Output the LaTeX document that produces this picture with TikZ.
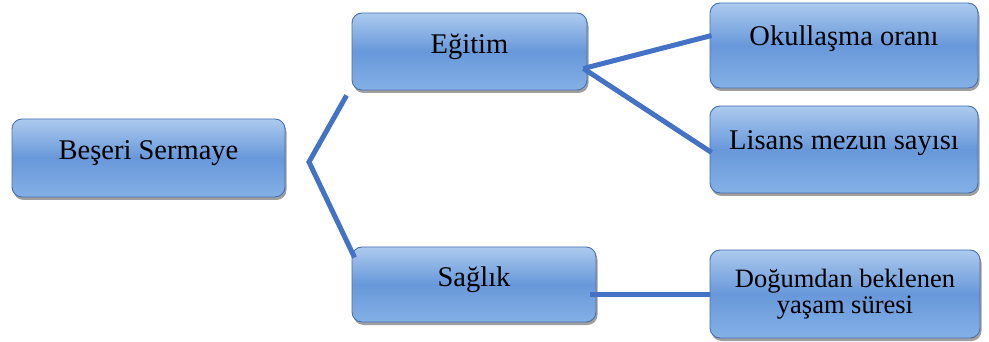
\documentclass[tikz,border=0pt]{standalone}
\usepackage{fontspec}
\setmainfont{Liberation Serif}
\usetikzlibrary{calc, shadows}
\definecolor{boxtop}{RGB}{172,202,238}
\definecolor{boxmid}{RGB}{104,152,218}
\definecolor{boxbot}{RGB}{132,176,230}
\definecolor{boxline}{RGB}{70,112,176}
\definecolor{linkblue}{RGB}{68,114,196}

\tikzset{
  sbox/.style={draw=boxline, line width=0.9pt, rounded corners=10pt,
    top color=boxtop, bottom color=boxbot, middle color=boxmid,
    drop shadow={shadow xshift=1.5pt, shadow yshift=-3pt, opacity=0.5, fill=black!75},
    font=\fontsize{28.5}{27}\selectfont, inner sep=0pt, align=center},
  oneline/.style={text height=20pt, text depth=16pt},
  link/.style={linkblue, line width=5pt}
}

\begin{document}
\begin{tikzpicture}[x=1pt, y=-1pt]
  \useasboundingbox (0,0) rectangle (989,342);
  % boxes
  \node[sbox, oneline, minimum width=273pt, minimum height=78pt] (beseri) at (148.5,158) {Beşeri Sermaye};
  \node[sbox, oneline, minimum width=235pt, minimum height=77pt] (egitim) at (469.5,51.5) {Eğitim};
  \node[sbox, oneline, minimum width=244pt, minimum height=75pt] (saglik) at (474,284.5) {Sağlık};
  \node[sbox, text height=20pt, text depth=20pt, minimum width=268pt, minimum height=85pt] (okul) at (844,45.5) {Okullaşma oranı};
  \node[sbox, text height=20pt, text depth=20pt, minimum width=268pt, minimum height=87pt] (lisans) at (844,149.5) {Lisans mezun sayısı};
  \node[sbox, font=\fontsize{26.5}{25.5}\selectfont, minimum width=270pt, minimum height=88pt] (dogum) at (845,294) {Doğumdan beklenen\\yaşam süresi};
  % left fork
  \coordinate (fork) at (309,162);
  \draw[link] ([shift={(-5,5)}]egitim.south west) -- (fork) -- ([shift={(3,11)}]saglik.north west);
  % Egitim branches
  \coordinate (egfork) at ([shift={(-4,17)}]egitim.east);
  \draw[link] (egfork) -- ([shift={(2,-10)}]okul.west);
  \draw[link] (egfork) -- ([shift={(2,3)}]lisans.west);
  % Saglik branch
  \draw[link] ([xshift=-6pt]dogum.west -| saglik.east) -- (dogum.west);
\end{tikzpicture}
\end{document}
